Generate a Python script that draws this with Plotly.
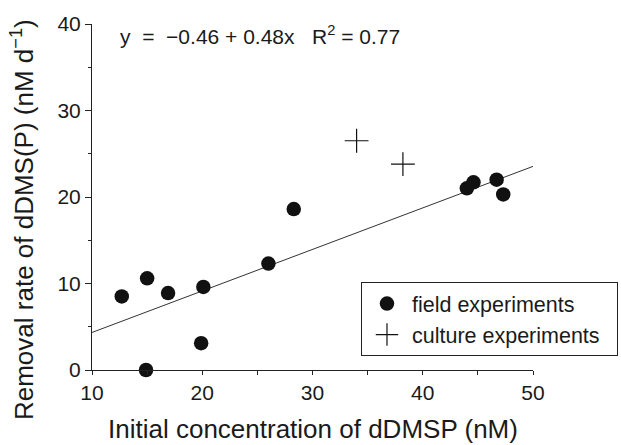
import plotly.graph_objects as go

# Field experiments (circles)
field_x = [12.7, 15.0, 16.9, 20.1, 19.9, 14.9, 26.0, 28.3, 44.0, 44.6, 46.7, 47.3]
field_y = [8.5, 10.6, 8.9, 9.6, 3.1, 0.0, 12.3, 18.6, 21.0, 21.7, 22.0, 20.3]

# Culture experiments (crosses)
culture_x = [34.0, 38.2]
culture_y = [26.5, 23.8]

# Regression: y = -0.46 + 0.48x
intercept = -0.46
slope = 0.48
fit_x = [10, 50]
fit_y = [intercept + slope * v for v in fit_x]

x_ticks = [10, 20, 30, 40, 50]
y_ticks = [0, 10, 20, 30, 40]

FONT = "Liberation Sans, Arial, Helvetica, sans-serif"
INK = "#1a1a1a"
NBSP = "\u00a0"

fig = go.Figure()
fig.add_trace(go.Scatter(
    x=fit_x, y=fit_y, mode="lines",
    line=dict(color="#333333", width=1), showlegend=False, hoverinfo="skip"))
fig.add_trace(go.Scatter(
    x=field_x, y=field_y, mode="markers", name="field experiments",
    marker=dict(symbol="circle", size=14.5, color="#111111"), cliponaxis=False))
fig.add_trace(go.Scatter(
    x=culture_x, y=culture_y, mode="markers", name="culture experiments" + NBSP * 2,
    marker=dict(symbol="cross-thin-open", size=17, color="#111111",
                line=dict(width=1.2, color="#111111"))))

fig.update_layout(
    width=621, height=445,
    margin=dict(l=92, r=88, t=24, b=75, autoexpand=False),
    paper_bgcolor="white", plot_bgcolor="white",
    font=dict(family=FONT, size=21, color=INK),
    legend=dict(
        x=1.1927, y=0.254, xanchor="right", yanchor="top",
        bordercolor="#222222", borderwidth=1, bgcolor="white",
        font=dict(size=21.5, color=INK),
        itemsizing="trace", itemwidth=40, tracegroupgap=0,
    ),
    annotations=[
        dict(
            x=0.06, y=0.968, xref="paper", yref="paper",
            xanchor="left", yanchor="middle", showarrow=False,
            text="y  =  −0.46 + 0.48x   R<sup>2</sup> = 0.77",
            font=dict(size=21, color=INK),
        ),
        dict(
            x=0.5, y=-0.17, xref="paper", yref="paper",
            xanchor="center", yanchor="middle", showarrow=False,
            text="Initial concentration of dDMSP (nM)",
            font=dict(size=26, color=INK),
        ),
        dict(
            x=-0.159, y=0.436, xref="paper", yref="paper",
            xanchor="center", yanchor="middle", showarrow=False, textangle=-90,
            text="Removal rate of dDMS(P) (nM d<sup>−1</sup>)",
            font=dict(size=26, color=INK),
        ),
    ],
)

fig.update_xaxes(
    range=[10, 50], tickvals=x_ticks, ticktext=[str(v) for v in x_ticks],
    showline=True, linecolor="#222222", linewidth=1,
    ticks="outside", ticklen=4, tickcolor="#222222",
    minor=dict(dtick=5, ticks="outside", ticklen=4, tickcolor="#222222"),
    showgrid=False, zeroline=False,
)
fig.update_yaxes(
    range=[0, 40], tickvals=y_ticks, ticktext=[str(v) for v in y_ticks],
    showline=True, linecolor="#222222", linewidth=1,
    ticks="outside", ticklen=6, tickcolor="#222222",
    minor=dict(dtick=5, ticks="outside", ticklen=3, tickcolor="#222222"),
    showgrid=False, zeroline=False,
)

fig.write_html(
    "out.html",
    config={"displayModeBar": False},
    post_script="document.body.style.margin='0';document.body.style.overflow='hidden';",
)
